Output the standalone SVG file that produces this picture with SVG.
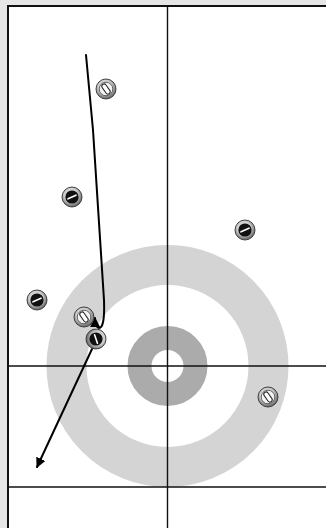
<svg xmlns="http://www.w3.org/2000/svg" width="326" height="528" viewBox="0 0 326 528">
<defs>
<style>
.line{stroke:#111;stroke-width:1.4;fill:none}
.path{stroke:#000;stroke-width:2;fill:none;stroke-linecap:round}
.rim{fill:url(#rg);stroke:#333;stroke-width:0.9}
.dcore{fill:#111}
.dhandle{stroke:#fff;stroke-width:1.6;stroke-linecap:round}
.lcore{fill:#f2f2f2;stroke:#444;stroke-width:0.8}
.lhandle{fill:#fff;stroke:#222;stroke-width:1}
</style>
<radialGradient id="rg" cx="0.45" cy="0.4" r="0.6">
<stop offset="0.55" stop-color="#d0d0d0"/>
<stop offset="1" stop-color="#5f5f5f"/>
</radialGradient>
<g id="dark">
<circle r="10" class="rim"/>
<circle r="6.6" class="dcore"/>
<line x1="-4" y1="1.8" x2="4" y2="-1.8" class="dhandle"/>
</g>
<g id="light">
<circle r="10" class="rim"/>
<circle r="6.8" class="lcore"/>
<rect x="-2.3" y="-5.6" width="4.6" height="11.2" rx="2.3" class="lhandle" transform="rotate(-35)"/>
</g>
<marker id="ah" viewBox="0 0 10 10" refX="9" refY="5" markerWidth="5" markerHeight="5" orient="auto" markerUnits="strokeWidth">
<path d="M0,0 L10,5 L0,10 z" fill="#000"/>
</marker>
</defs>
<rect x="0" y="0" width="326" height="528" fill="#e6e6e6"/>
<rect x="8" y="6" width="330" height="540" fill="#fff" stroke="#111" stroke-width="2"/>
<g id="house">
<circle cx="167.5" cy="366" r="101" fill="none" stroke="#d4d4d4" stroke-width="40"/>
<circle cx="167.5" cy="366" r="28" fill="none" stroke="#ababab" stroke-width="24"/>
</g>
<g id="lines">
<line x1="167.5" y1="6" x2="167.5" y2="528" class="line"/>
<line x1="8" y1="366" x2="326" y2="366" class="line"/>
<line x1="8" y1="487" x2="326" y2="487" class="line"/>
</g>
<g id="connectors">
<path d="M86,55 L93,130 L104,300 Q105,328 99,328 Q95,327 95,318" class="path" marker-end="url(#ah)"/>
<path d="M92,349 L37,467" class="path" marker-end="url(#ah)"/>
</g>
<g id="stone1"><use href="#light" x="106" y="89"/></g>
<g id="stone2"><use href="#dark" x="72" y="197"/></g>
<g id="stone3"><use href="#dark" x="245" y="230"/></g>
<g id="stone4"><use href="#dark" x="37" y="300"/></g>
<g id="stone5"><use href="#light" x="84" y="317"/></g>
<g id="stone6"><use href="#dark" x="96" y="339" transform="rotate(95 96 339)"/></g>
<g id="stone7"><use href="#light" x="268" y="397"/></g>
</svg>
